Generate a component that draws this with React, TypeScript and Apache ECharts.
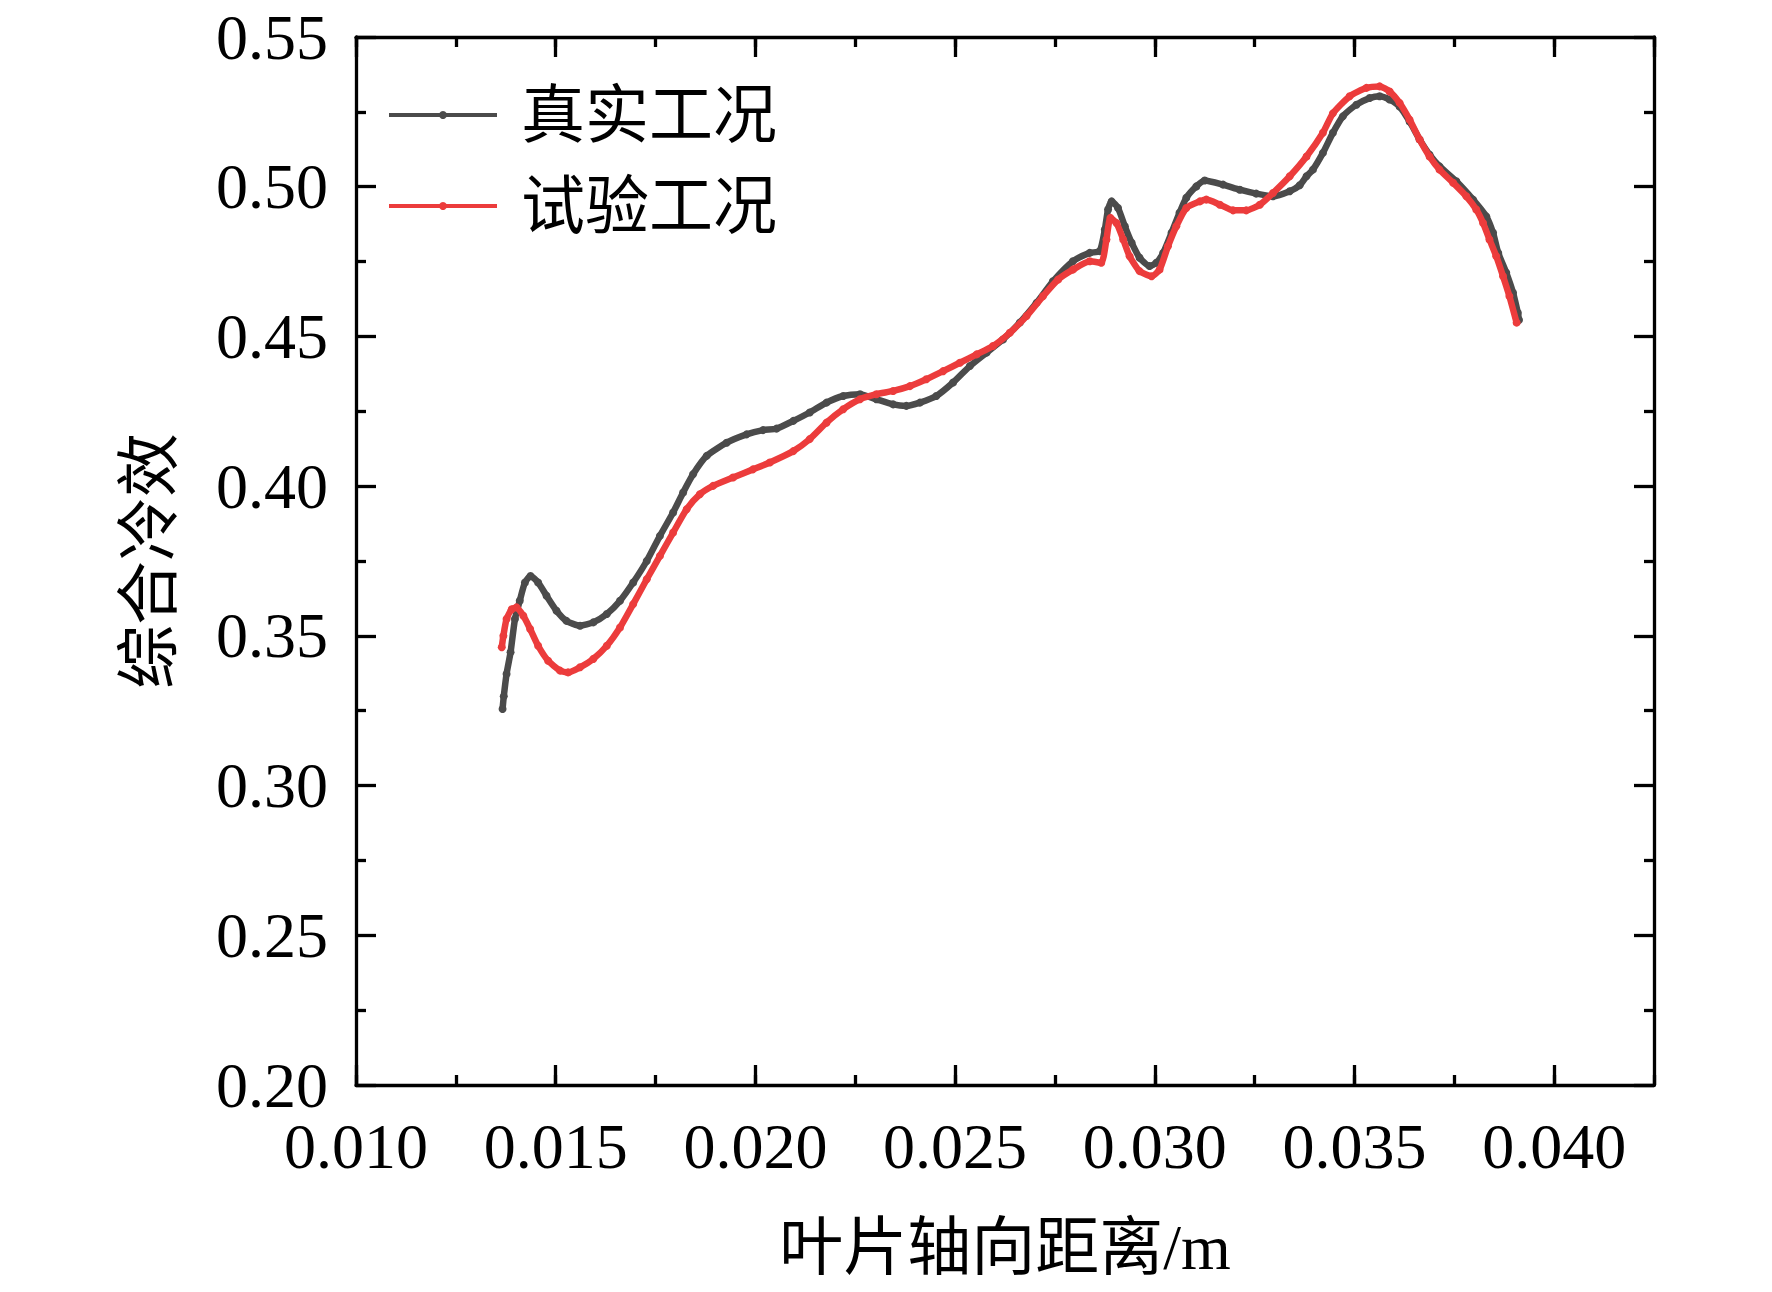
import React, { useEffect, useRef } from "react";
import * as echarts from "echarts";

const seriesNames = ["真实工况", "试验工况"];
const seriesColors = ["#4b4b4b", "#ec3c3c"];
const xTickLabels = ["0.010", "0.015", "0.020", "0.025", "0.030", "0.035", "0.040"];
const yTickLabels = ["0.20", "0.25", "0.30", "0.35", "0.40", "0.45", "0.50", "0.55"];

const realData: [number, number][] = [
  [0.01367, 0.3256], [0.0137, 0.3298], [0.01377, 0.3373], [0.01387, 0.3445], [0.01398, 0.3556],
  [0.0141, 0.3617], [0.01423, 0.3678], [0.01437, 0.37], [0.01456, 0.3678], [0.01477, 0.3634],
  [0.01502, 0.3584], [0.01527, 0.355], [0.01561, 0.3534], [0.01594, 0.3545], [0.01628, 0.3573],
  [0.01661, 0.3617], [0.01694, 0.3678], [0.01728, 0.375], [0.01761, 0.3834], [0.01794, 0.3912],
  [0.01819, 0.3979], [0.01844, 0.404], [0.01878, 0.4101], [0.01928, 0.4145], [0.01978, 0.4173],
  [0.02019, 0.4187], [0.02053, 0.4192], [0.02095, 0.4218], [0.02136, 0.4246], [0.02178, 0.4279],
  [0.0222, 0.4301], [0.02262, 0.4307], [0.02303, 0.429], [0.02345, 0.4273], [0.02378, 0.4268],
  [0.02412, 0.4279], [0.02453, 0.4301], [0.02495, 0.4346], [0.02537, 0.4401], [0.02579, 0.4446],
  [0.0262, 0.449], [0.02662, 0.4546], [0.02704, 0.4612], [0.02745, 0.4684], [0.02795, 0.4751],
  [0.02837, 0.4779], [0.02862, 0.4785], [0.02875, 0.4857], [0.02883, 0.4924], [0.02892, 0.4951],
  [0.02908, 0.4929], [0.02925, 0.4868], [0.02942, 0.4813], [0.02962, 0.4763], [0.02987, 0.4735],
  [0.03004, 0.4746], [0.03021, 0.4779], [0.03042, 0.4846], [0.03062, 0.4913], [0.03079, 0.4963],
  [0.03104, 0.5001], [0.03125, 0.5021], [0.03171, 0.5007], [0.03213, 0.499], [0.03254, 0.4977],
  [0.03296, 0.4968], [0.03338, 0.4985], [0.03363, 0.5005], [0.0338, 0.5035], [0.03396, 0.5057],
  [0.03421, 0.5113], [0.03446, 0.518], [0.03471, 0.5235], [0.03505, 0.5274], [0.03538, 0.5296],
  [0.03563, 0.5302], [0.03588, 0.5291], [0.03613, 0.5268], [0.03638, 0.5218], [0.03663, 0.5158],
  [0.03688, 0.5107], [0.03713, 0.5068], [0.03755, 0.5018], [0.03797, 0.4957], [0.0383, 0.4901],
  [0.03847, 0.4846], [0.0386, 0.4779], [0.0388, 0.4713], [0.03897, 0.4646], [0.03909, 0.4579],
  [0.03912, 0.4555],
];

const testData: [number, number][] = [
  [0.01365, 0.3462], [0.01369, 0.35], [0.01377, 0.3556], [0.0139, 0.3589], [0.01402, 0.3595],
  [0.01419, 0.3567], [0.01436, 0.3523], [0.01456, 0.3467], [0.01481, 0.3417], [0.01511, 0.3384],
  [0.01531, 0.3378], [0.01561, 0.3395], [0.01594, 0.3423], [0.01628, 0.3467], [0.01661, 0.3528],
  [0.01694, 0.3606], [0.01728, 0.3689], [0.01761, 0.3767], [0.01794, 0.3845], [0.01828, 0.3923],
  [0.01861, 0.3973], [0.01894, 0.4001], [0.01944, 0.4029], [0.01994, 0.4056], [0.02036, 0.4079],
  [0.02095, 0.4117], [0.02136, 0.4157], [0.02178, 0.4212], [0.0222, 0.4257], [0.02262, 0.429],
  [0.02303, 0.4307], [0.02345, 0.4318], [0.02387, 0.4334], [0.02428, 0.4357], [0.0247, 0.4384],
  [0.02512, 0.4412], [0.02554, 0.444], [0.02595, 0.4468], [0.02637, 0.4512], [0.02679, 0.4568],
  [0.0272, 0.4634], [0.02758, 0.469], [0.02795, 0.4723], [0.02837, 0.4751], [0.02866, 0.4746],
  [0.02879, 0.4824], [0.02889, 0.4896], [0.02904, 0.4879], [0.02921, 0.4824], [0.02937, 0.4768],
  [0.02962, 0.4718], [0.02992, 0.4701], [0.03012, 0.4723], [0.03033, 0.4801], [0.03054, 0.4868],
  [0.03079, 0.4929], [0.03113, 0.4951], [0.03129, 0.4957], [0.03163, 0.494], [0.03196, 0.4921],
  [0.03229, 0.4921], [0.03263, 0.494], [0.03296, 0.4979], [0.03338, 0.5035], [0.0338, 0.5101],
  [0.03421, 0.518], [0.03446, 0.5245], [0.03488, 0.5302], [0.0353, 0.533], [0.03563, 0.5335],
  [0.03588, 0.5318], [0.03613, 0.528], [0.03638, 0.5224], [0.03663, 0.5158], [0.03688, 0.5101],
  [0.03713, 0.5057], [0.03747, 0.5013], [0.0378, 0.4968], [0.03805, 0.4924], [0.03822, 0.4879],
  [0.03838, 0.4824], [0.03855, 0.4768], [0.03872, 0.4701], [0.03888, 0.4634], [0.03906, 0.4546],
];

const FONT = "'Liberation Serif', 'Noto Sans CJK SC', serif";
const BLACK = "#000";

export default function App() {
  const ref = useRef<HTMLDivElement>(null);
  useEffect(() => {
    if (!ref.current) return;
    const chart = echarts.init(ref.current, undefined, { renderer: "svg" });
    const xMajor = 0.005;
    const fmtX = (v: number) => {
      const k = v / xMajor;
      if (Math.abs(k - Math.round(k)) > 1e-6) return "";
      const idx = Math.round((v - 0.01) / xMajor);
      return xTickLabels[idx] ?? "";
    };
    const fmtY = (v: number) => {
      const idx = Math.round((v - 0.2) / 0.05);
      return yTickLabels[idx] ?? "";
    };
    const axisLine = { show: true, onZero: false, lineStyle: { color: BLACK, width: 3.3 } };
    const majorTick = { show: true, inside: true, length: 20, lineStyle: { color: BLACK, width: 3.3 } };
    const minorTickAx = { show: true, inside: true, length: 10, lineStyle: { color: BLACK, width: 3.3 } };
    const xBase = { type: "value", min: 0.01, max: 0.0425, splitLine: { show: false } };
    const yBase = { type: "value", min: 0.2, max: 0.55, interval: 0.05, splitLine: { show: false } };
    chart.setOption({
      animation: false,
      backgroundColor: "#fff",
      grid: { left: 356, right: 118, top: 37, bottom: 207, containLabel: false },
      legend: {
        orient: "vertical",
        left: 382,
        top: 78,
        itemWidth: 108,
        itemHeight: 10,
        itemGap: 27,
        data: seriesNames,
        lineStyle: { width: 4 },
        textStyle: { fontSize: 64, fontFamily: FONT, color: BLACK, lineHeight: 64, padding: [0, 0, 0, 19] },
      },
      xAxis: [
        {
          ...xBase,
          position: "bottom",
          interval: 0.005,
          axisLine,
          axisTick: majorTick,
          axisLabel: { show: true, fontSize: 64, fontFamily: FONT, color: BLACK, margin: 29, formatter: fmtX, showMaxLabel: false },
          name: "叶片轴向距离/m",
          nameLocation: "middle",
          nameGap: 130,
          nameTextStyle: { fontSize: 64, fontFamily: FONT, color: BLACK },
        },
        { ...xBase, position: "bottom", interval: 0.0025, axisLine: { show: false }, axisTick: minorTickAx, axisLabel: { show: false } },
        { ...xBase, position: "top", interval: 0.005, axisLine, axisTick: majorTick, axisLabel: { show: false } },
        { ...xBase, position: "top", interval: 0.0025, axisLine: { show: false }, axisTick: minorTickAx, axisLabel: { show: false } },
      ],
      yAxis: [
        {
          ...yBase,
          position: "left",
          axisLine,
          axisTick: majorTick,
          minorTick: { show: true, splitNumber: 2, length: 10, lineStyle: { color: BLACK, width: 3.3 } },
          axisLabel: { show: true, fontSize: 64, fontFamily: FONT, color: BLACK, margin: 28, formatter: fmtY, padding: [0, 0, 8, 0] },
          name: "综合冷效",
          nameLocation: "middle",
          nameGap: 175,
          nameRotate: 90,
          nameTextStyle: { fontSize: 64, fontFamily: FONT, color: BLACK },
        },
        {
          ...yBase,
          position: "right",
          axisLine,
          axisTick: majorTick,
          minorTick: { show: true, splitNumber: 2, length: 10, lineStyle: { color: BLACK, width: 3.3 } },
          axisLabel: { show: false },
        },
      ],
      series: [
        {
          name: seriesNames[0],
          type: "line",
          data: realData,
          xAxisIndex: 0,
          yAxisIndex: 0,
          symbol: "circle",
          symbolSize: 8,
          smooth: 0.2,
          lineStyle: { width: 6.5, color: seriesColors[0] },
          itemStyle: { color: seriesColors[0] },
          z: 2,
        },
        {
          name: seriesNames[1],
          type: "line",
          data: testData,
          xAxisIndex: 0,
          yAxisIndex: 0,
          symbol: "circle",
          symbolSize: 8,
          smooth: 0.2,
          lineStyle: { width: 6.5, color: seriesColors[1] },
          itemStyle: { color: seriesColors[1] },
          z: 3,
        },
      ],
    });
    return () => chart.dispose();
  }, []);
  return (
    <div
      ref={ref}
      style={{ position: "fixed", left: 0, top: 0, width: 1772, height: 1292, background: "#fff" }}
    />
  );
}
